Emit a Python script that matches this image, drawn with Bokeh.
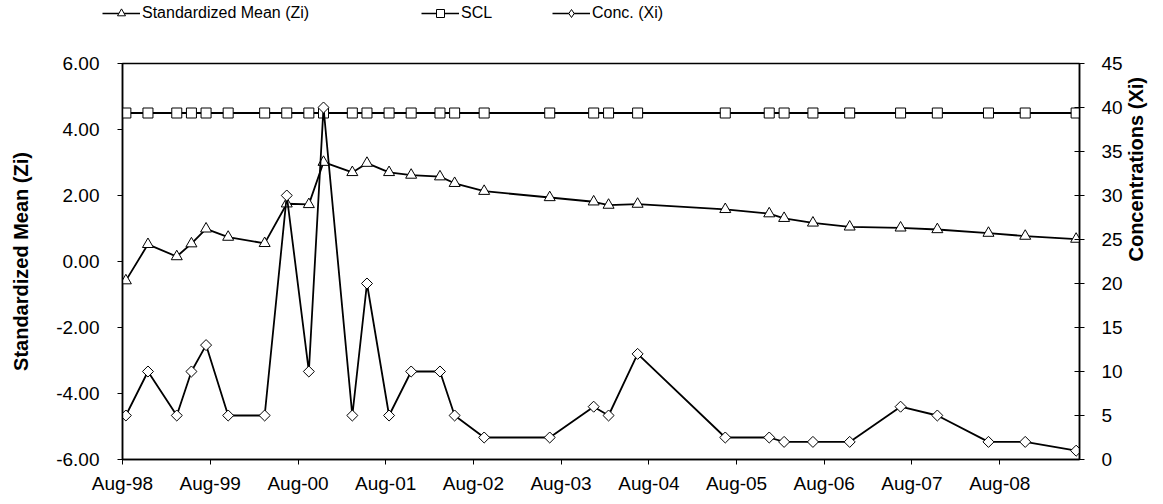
import math
import pandas as pd
from bokeh.plotting import figure
from bokeh.layouts import column, row
from bokeh.models import (Range1d, LinearAxis, FixedTicker, PrintfTickFormatter,
                          DatetimeTickFormatter, Legend, LegendItem, ColumnDataSource)
from bokeh.embed import file_html
from bokeh.resources import INLINE

# ---------------- data ----------------
dates = ["1998-08-15", "1998-11-15", "1999-03-15", "1999-05-15", "1999-07-15", "1999-10-15",
         "2000-03-15", "2000-06-15", "2000-09-15", "2000-11-15", "2001-03-15", "2001-05-15",
         "2001-08-15", "2001-11-15", "2002-03-15", "2002-05-15", "2002-09-15", "2003-06-15",
         "2003-12-15", "2004-02-15", "2004-06-15", "2005-06-15", "2005-12-15", "2006-02-15",
         "2006-06-15", "2006-11-15", "2007-06-15", "2007-11-15", "2008-06-15", "2008-11-15",
         "2009-06-15"]
zi = [-0.58, 0.52, 0.15, 0.54, 0.99, 0.74, 0.55, 1.75, 1.73, 3.01, 2.70, 2.98, 2.70, 2.62,
      2.57, 2.37, 2.13, 1.94, 1.81, 1.71, 1.74, 1.58, 1.45, 1.31, 1.17, 1.05, 1.02, 0.97,
      0.86, 0.77, 0.68]
scl = [4.5] * len(dates)
conc = [5, 10, 5, 10, 13, 5, 5, 30, 10, 40, 5, 20, 5, 10, 10, 5, 2.5, 2.5, 6, 5, 12, 2.5,
        2.5, 2, 2, 2, 6, 5, 2, 2, 1]
x_ticks = ["1998-08-01", "1999-08-01", "2000-08-01", "2001-08-01", "2002-08-01", "2003-08-01",
           "2004-08-01", "2005-08-01", "2006-08-01", "2007-08-01", "2008-08-01"]
left_ticks = [-6, -4, -2, 0, 2, 4, 6]
right_ticks = [0, 5, 10, 15, 20, 25, 30, 35, 40, 45]
series_names = ["Standardized Mean (Zi)", "SCL", "Conc. (Xi)"]
left_title = "Standardized Mean (Zi)"
right_title = "Concentrations (Xi)"

FONT = "Liberation Sans"

def ms(s):
    return pd.Timestamp(s).value // 10**6

src = ColumnDataSource(dict(x=pd.to_datetime(dates), zi=zi, scl=scl, conc=conc))

# ---------------- main chart ----------------
p = figure(width=1160, height=470, x_axis_type="datetime", output_backend="svg",
           toolbar_location=None,
           x_range=Range1d(ms("1998-08-01"), ms("2009-06-29")), y_range=Range1d(-6, 6),
           min_border_left=122, min_border_right=78, min_border_top=33, min_border_bottom=41)
p.background_fill_color = "white"
p.border_fill_color = "white"
p.outline_line_color = "black"
p.outline_line_width = 1.5
p.xgrid.visible = False
p.ygrid.visible = False

ya = p.yaxis[0]
ya.ticker = FixedTicker(ticks=left_ticks)
ya.formatter = PrintfTickFormatter(format="%.2f")
ya.axis_label = left_title

xa = p.xaxis[0]
xa.ticker = FixedTicker(ticks=[ms(t) for t in x_ticks])
fmt = "%b-%y"
xa.formatter = DatetimeTickFormatter(years=fmt, months=fmt, days=fmt, hours=fmt,
                                     minutes=fmt, seconds=fmt, milliseconds=fmt,
                                     microseconds=fmt, hourmin=fmt, minsec=fmt)

p.extra_y_ranges = {"conc": Range1d(0, 45)}
ra = LinearAxis(y_range_name="conc", ticker=FixedTicker(ticks=right_ticks),
                axis_label=right_title)
p.add_layout(ra, "right")

for ax in (xa, ya, ra):
    ax.axis_line_color = "black"
    ax.axis_line_width = 1.5
    ax.major_tick_line_color = "black"
    ax.major_tick_line_width = 1
    ax.minor_tick_line_color = None
    ax.major_tick_out = 5
    ax.major_tick_in = 0
    ax.major_label_text_font = FONT
    ax.major_label_text_font_size = "19px"
    ax.major_label_text_color = "black"
    ax.axis_label_text_font = FONT
    ax.axis_label_text_font_size = "20px"
    ax.axis_label_text_font_style = "bold"
    ax.axis_label_text_color = "black"
ra.major_tick_in = 5
ya.major_label_standoff = 18
ra.major_label_standoff = 17
xa.major_label_standoff = 8
ya.axis_label_standoff = 21
ra.axis_label_standoff = 10
if "axis_label_orientation" in ra.properties():
    ra.axis_label_orientation = math.pi / 2

l1 = p.line("x", "zi", source=src, line_color="black", line_width=1.8)
m1 = p.scatter("x", "zi", source=src, marker="triangle", size=11, fill_color="white",
               line_color="black", line_width=1)
l2 = p.line("x", "scl", source=src, line_color="black", line_width=1.8)
m2 = p.scatter("x", "scl", source=src, marker="square", size=10, fill_color="white",
               line_color="black", line_width=1)
l3 = p.line("x", "conc", source=src, line_color="black", line_width=1.8, y_range_name="conc")
m3 = p.scatter("x", "conc", source=src, marker="square", angle=0.785398, size=7.8,
               fill_color="white", line_color="black", line_width=1, y_range_name="conc")

# ---------------- legend strip ----------------
h = figure(width=1160, height=30, output_backend="svg", toolbar_location=None,
           x_range=Range1d(0, 1), y_range=Range1d(0, 1),
           x_axis_location=None, y_axis_location=None, min_border=0)
h.outline_line_color = None
h.xgrid.visible = False
h.ygrid.visible = False
h.background_fill_color = "white"
h.border_fill_color = "white"
markers = ["triangle", "square", "diamond"]
for (name, mk, xloc) in zip(series_names, markers, (102, 421, 552)):
    hl = h.line(x=[-10, -9], y=[-10, -9], line_color="black", line_width=1.6)
    hm = h.scatter(x=[-10], y=[-10], marker=mk, size=8, fill_color="white",
                   line_color="black", line_width=1)
    lg = Legend(items=[LegendItem(label=name, renderers=[hl, hm])], location=(xloc, 7),
                orientation="horizontal", glyph_width=38, glyph_height=20, label_height=20,
                label_standoff=2, padding=0, margin=0, spacing=0,
                border_line_color=None, background_fill_alpha=0,
                label_text_font=FONT, label_text_font_size="16px", label_text_color="black")
    h.add_layout(lg, "center")

layout = column(row(h), p, spacing=0)
open("out.html", "w").write(file_html(layout, INLINE))
